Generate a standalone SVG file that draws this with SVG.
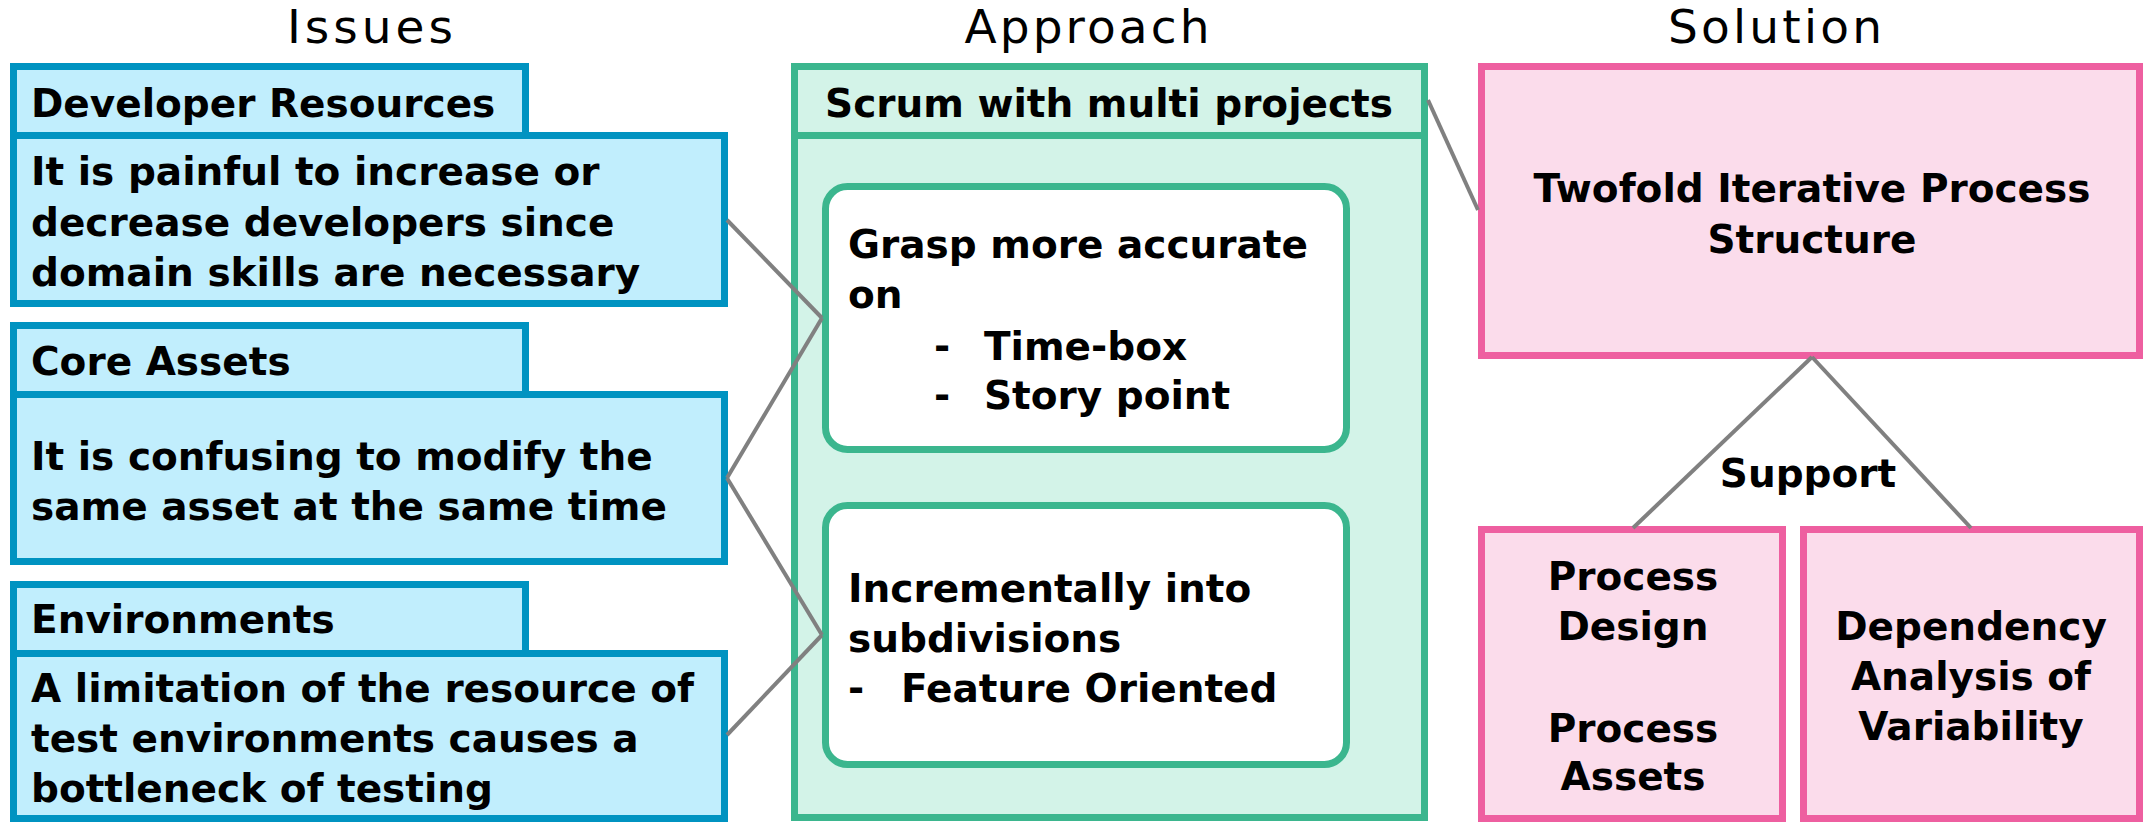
<svg xmlns="http://www.w3.org/2000/svg" width="2145" height="822" viewBox="0 0 2145 822">
<style>
.t{font-family:"DejaVu Sans","Liberation Sans",sans-serif;font-weight:bold;font-size:39px;fill:#000}
.title{font-family:"DejaVu Sans","Liberation Sans",sans-serif;font-size:47px;fill:#000;text-anchor:middle}
.c{text-anchor:middle}
.blue{fill:#C1EEFD;stroke:#0093C1;stroke-width:7}
.green{fill:#D3F3E8;stroke:#3BB68E;stroke-width:7}
.inner{fill:#FFFFFF;stroke:#3BB68E;stroke-width:7}
.pink{fill:#FBDCEB;stroke:#EE5FA0;stroke-width:7}
.conn{stroke:#808080;stroke-width:4;fill:none}
</style>
<rect width="2145" height="822" fill="#FFFFFF"/>
<g id="titles">
<text class="title" x="370" y="43" textLength="166">Issues</text>
<text class="title" x="1087" y="43" textLength="245">Approach</text>
<text class="title" x="1775" y="43" textLength="214">Solution</text>
</g>
<g id="issue-developer-resources">
<rect class="blue" x="13.5" y="135.5" width="711" height="168"/>
<rect class="blue" x="13.5" y="66.5" width="512" height="69"/>
<text class="t" x="31" y="117">Developer Resources</text>
<text class="t" x="31" y="185">It is painful to increase or</text>
<text class="t" x="31" y="236">decrease developers since</text>
<text class="t" x="31" y="286">domain skills are necessary</text>
</g>
<g id="issue-core-assets">
<rect class="blue" x="13.5" y="394.5" width="711" height="167"/>
<rect class="blue" x="13.5" y="325.5" width="512" height="69"/>
<text class="t" x="31" y="375">Core Assets</text>
<text class="t" x="31" y="470">It is confusing to modify the</text>
<text class="t" x="31" y="520">same asset at the same time</text>
</g>
<g id="issue-environments">
<rect class="blue" x="13.5" y="653.5" width="711" height="165"/>
<rect class="blue" x="13.5" y="584.5" width="512" height="69"/>
<text class="t" x="31" y="633">Environments</text>
<text class="t" x="31" y="702">A limitation of the resource of</text>
<text class="t" x="31" y="752">test environments causes a</text>
<text class="t" x="31" y="802">bottleneck of testing</text>
</g>
<g id="approach-scrum">
<rect class="green" x="794.5" y="66.5" width="630" height="751"/>
<rect class="green" x="794.5" y="66.5" width="630" height="69"/>
<text class="t c" x="1109" y="117">Scrum with multi projects</text>
</g>
<g id="approach-grasp">
<rect class="inner" x="825.5" y="186.5" width="521" height="263" rx="22" ry="22"/>
<text class="t" x="848" y="258">Grasp more accurate</text>
<text class="t" x="848" y="308">on</text>
<text class="t" x="934" y="360">-</text>
<text class="t" x="984" y="360">Time-box</text>
<text class="t" x="934" y="409">-</text>
<text class="t" x="984" y="409">Story point</text>
</g>
<g id="approach-incremental">
<rect class="inner" x="825.5" y="505.5" width="521" height="259" rx="22" ry="22"/>
<text class="t" x="848" y="602">Incrementally into</text>
<text class="t" x="848" y="652">subdivisions</text>
<text class="t" x="848" y="702">-</text>
<text class="t" x="901" y="702">Feature Oriented</text>
</g>
<g id="solution-twofold">
<rect class="pink" x="1481.5" y="66.5" width="658" height="289"/>
<text class="t c" x="1812" y="202">Twofold Iterative Process</text>
<text class="t c" x="1812" y="253">Structure</text>
</g>
<g id="support-label">
<text class="t c" x="1808" y="487">Support</text>
</g>
<g id="solution-process">
<rect class="pink" x="1481.5" y="529.5" width="301" height="289"/>
<text class="t c" x="1633" y="590">Process</text>
<text class="t c" x="1633" y="640">Design</text>
<text class="t c" x="1633" y="742">Process</text>
<text class="t c" x="1633" y="790">Assets</text>
</g>
<g id="solution-dependency">
<rect class="pink" x="1803.5" y="529.5" width="336" height="289"/>
<text class="t c" x="1971" y="640">Dependency</text>
<text class="t c" x="1971" y="690">Analysis of</text>
<text class="t c" x="1971" y="740">Variability</text>
</g>
<g id="connectors">
<line class="conn" x1="727" y1="220" x2="822" y2="318"/>
<line class="conn" x1="727" y1="478" x2="822" y2="318"/>
<line class="conn" x1="727" y1="478" x2="822" y2="635"/>
<line class="conn" x1="727" y1="735" x2="822" y2="635"/>
<line class="conn" x1="1428" y1="100" x2="1478" y2="210"/>
<line class="conn" x1="1812" y1="357" x2="1633" y2="528"/>
<line class="conn" x1="1812" y1="357" x2="1971" y2="528"/>
</g>
</svg>
